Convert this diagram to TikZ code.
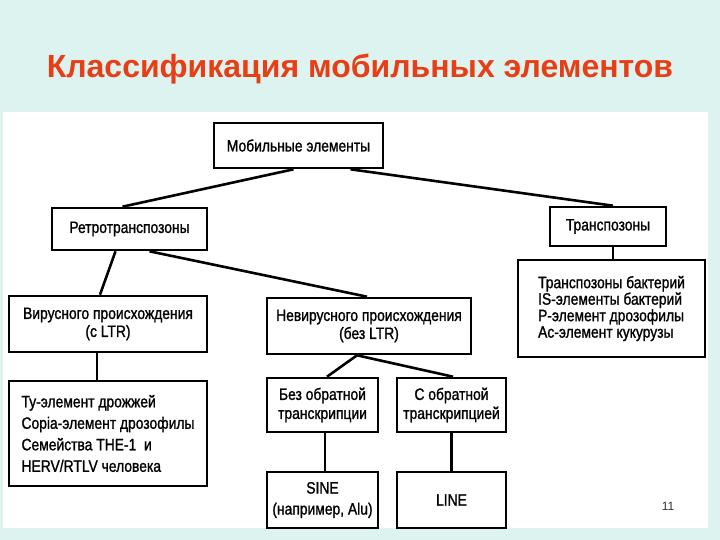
\documentclass[tikz,border=0pt]{standalone}
\usepackage{fontspec}
\setmainfont{Liberation Sans}
\newfontfamily\boxfont{Liberation Sans}[FakeStretch=0.84, FakeBold=1.2]
\usetikzlibrary{positioning, calc}
\definecolor{slidecyan}{RGB}{221, 243, 239}
\definecolor{titlered}{RGB}{232, 62, 22}

\tikzset{
    box/.style={draw, line width=2.6pt, align=center, inner sep=0pt,
        font=\boxfont\fontsize{16.5}{18}\selectfont},
    listbox/.style={box, align=left},
    link/.style={line width=2.6pt},
}

\begin{document}
\begin{tikzpicture}[x=1pt, y=-1pt]
    \useasboundingbox (0,0) rectangle (720,540);
    \fill[slidecyan] (0,0) rectangle (720,540);
    \fill[white] (3,112) rectangle (708,528);
    \node[text=titlered, font=\bfseries\fontsize{32}{36}\selectfont] (title) at (360,69) {Классификация мобильных элементов};

    \begin{scope}
        % top levels
        \node[box, minimum width=169pt, minimum height=45pt] (mob) at (298.5,145.5) {Мобильные элементы};
        \node[box, minimum width=155pt, minimum height=42pt] (retro) at (129.5,229) {Ретротранспозоны};
        \node[box, minimum width=116pt, minimum height=39pt] (trans) at (608,226.5) {Транспозоны};
        \node[listbox, minimum width=187pt, minimum height=97pt, font=\boxfont\fontsize{16.5}{16.5}\selectfont] (tlist) at (611.5,308.5)
            {Транспозоны бактерий\\IS-элементы бактерий\\P-элемент дрозофилы\\Ас-элемент кукурузы};
        \node[box, minimum width=198pt, minimum height=56pt] (vir) at (108,324) {Вирусного происхождения\\(с LTR)};
        \node[box, minimum width=204pt, minimum height=56pt] (nev) at (369,326) {Невирусного происхождения\\(без LTR)};
        % lower levels
        \node[listbox, minimum width=198pt, minimum height=105pt, font=\boxfont\fontsize{16.5}{21.5}\selectfont] (ty) at (108,433.5)
            {Ty-элемент дрожжей\\Copia-элемент дрозофилы\\Семейства THE-1\ \ и\\HERV/RTLV человека};
        \node[box, minimum width=111pt, minimum height=54pt, font=\boxfont\fontsize{16.5}{19}\selectfont] (bez) at (322.5,405) {Без обратной\\транскрипции};
        \node[box, minimum width=109pt, minimum height=54pt, font=\boxfont\fontsize{16.5}{19}\selectfont] (sobr) at (451.5,405) {С обратной\\транскрипцией};
        \node[box, minimum width=111pt, minimum height=56pt, font=\boxfont\fontsize{16.5}{21}\selectfont] (sine) at (322.5,500) {SINE\\(например, Alu)};
        \node[box, minimum width=109pt, minimum height=56pt] (line) at (451.5,500) {LINE};

        \draw[link] ([xshift=-5pt]mob.south) -- ([xshift=-7pt]retro.north);
        \draw[link] ([xshift=52pt]mob.south) -- ([xshift=5pt]trans.north);
        \draw[link] ([xshift=5pt]trans.south) -- ([xshift=1.5pt]tlist.north);
        \draw[link] ([xshift=-14pt]retro.south) -- ([xshift=-8pt]vir.north);
        \draw[link] ([xshift=20pt]retro.south) -- ([xshift=-2pt]nev.north);
        \draw[link] ([xshift=-11pt]vir.south) -- ([xshift=-11pt]ty.north);
        \draw[link] ([xshift=-12pt]nev.south) -- ([xshift=4.5pt]bez.north);
        \draw[link] ([xshift=-12pt]nev.south) -- ([xshift=1.5pt]sobr.north);
        \draw[link] ([xshift=2.5pt]bez.south) -- ([xshift=2.5pt]sine.north);
        \draw[link] (sobr.south) -- (line.north);
    \end{scope}

    \node[text=black!80, font=\fontsize{12}{14}\selectfont] (page) at (668,506) {11};
\end{tikzpicture}
\end{document}
